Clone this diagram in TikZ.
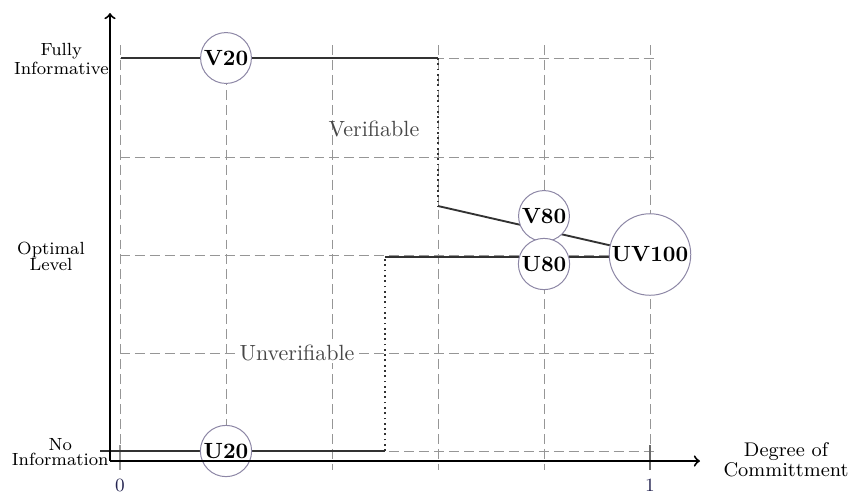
\documentclass[tikz,border=0pt]{standalone}
\usetikzlibrary{backgrounds}
\definecolor{circ}{RGB}{140,134,165}
\definecolor{curve}{RGB}{50,50,50}
\definecolor{tick}{RGB}{35,35,80}
\definecolor{gridc}{RGB}{150,150,150}
\tikzset{
  pt/.style={circle, draw=circ, line width=0.45pt, fill=white, inner sep=0.7pt,
             font=\fontsize{10}{12}\selectfont\bfseries},
  axlabel/.style={align=center, font=\fontsize{8}{7.2}\selectfont},
  axname/.style={align=center, font=\fontsize{9}{7.4}\selectfont},
  ticklabel/.style={text=tick, font=\fontsize{8.5}{10}\selectfont},
  region/.style={text=black!72, font=\fontsize{10}{12}\selectfont},
  gridline/.style={gridc, line width=0.4pt, dash pattern=on 4.5pt off 2.3pt},
  curveline/.style={curve, line width=0.85pt},
  jump/.style={curve, line width=0.9pt, dash pattern=on 0.8pt off 1.6pt},
  axis/.style={black, line width=0.9pt, ->},
}
\begin{document}
\begin{tikzpicture}[x=0.4545pt, y=-0.4545pt]
\useasboundingbox (0,0) rectangle (856,495);
% nodes
\node[pt] (V20) at (226,58) {V20};
\node[pt] (U20) at (226,451) {U20};
\node[pt] (V80) at (544,216) {V80};
\node[pt] (U80) at (544,264) {U80};
\node[pt] (UV100) at (650,254.5) {UV100};
\node[region] (ver) at (374,129) {Verifiable};
\node[region, fill=white, inner sep=1pt] (unver) at (297,353) {Unverifiable};
% axis labels
\node[axlabel, anchor=east, inner sep=0pt] (fi) at (109,59) {Fully\\Informative};
\node[axlabel, anchor=east, inner sep=0pt] (ni) at (109,452) {No\\Information};
\node[axlabel, inner sep=0pt] (ol) at (51,256) {Optimal\\Level};
\node[axname, inner sep=0pt] (dc) at (786,460) {Degree of\\Committment};
\node[ticklabel, inner sep=0pt] (t0) at (120,485.5) {0};
\node[ticklabel, inner sep=0pt] (t1) at (650,485.5) {1};
% coordinates
\coordinate (o) at (110,461);
\coordinate (ytop) at (110,13);
\coordinate (xend) at (700,461);
\coordinate (vs) at (121,58);
\coordinate (vc) at (438,58);
\coordinate (vd) at (438,206);
\coordinate (us) at (100,451);
\coordinate (uc) at (385,451);
\coordinate (ud) at (385,257);
\begin{scope}[on background layer]
  \foreach \x in {120,226,332,438,544,650}
    \draw[gridline] (\x,45) -- (\x,470);
  \foreach \y in {58,157,255,353,451}
    \draw[gridline] (120,\y) -- (655,\y);
  \draw[gridc, line width=0.5pt] (120,445) -- (120,470);
  \draw[gridc!70!black, line width=0.5pt] (650,445) -- (650,470);
  % verifiable curve
  \draw[curveline] (vs) -- (vc);
  \draw[jump] (vc) -- (vd);
  \draw[curveline] (vd) -- (UV100);
  % unverifiable curve
  \draw[curveline] (us) -- (uc);
  \draw[jump] (uc) -- (ud);
  \draw[curveline] (ud) -- (ud -| UV100.west);
\end{scope}
% axes
\draw[axis] (o) -- (ytop);
\draw[axis] (o) -- (xend);
\end{tikzpicture}
\end{document}
